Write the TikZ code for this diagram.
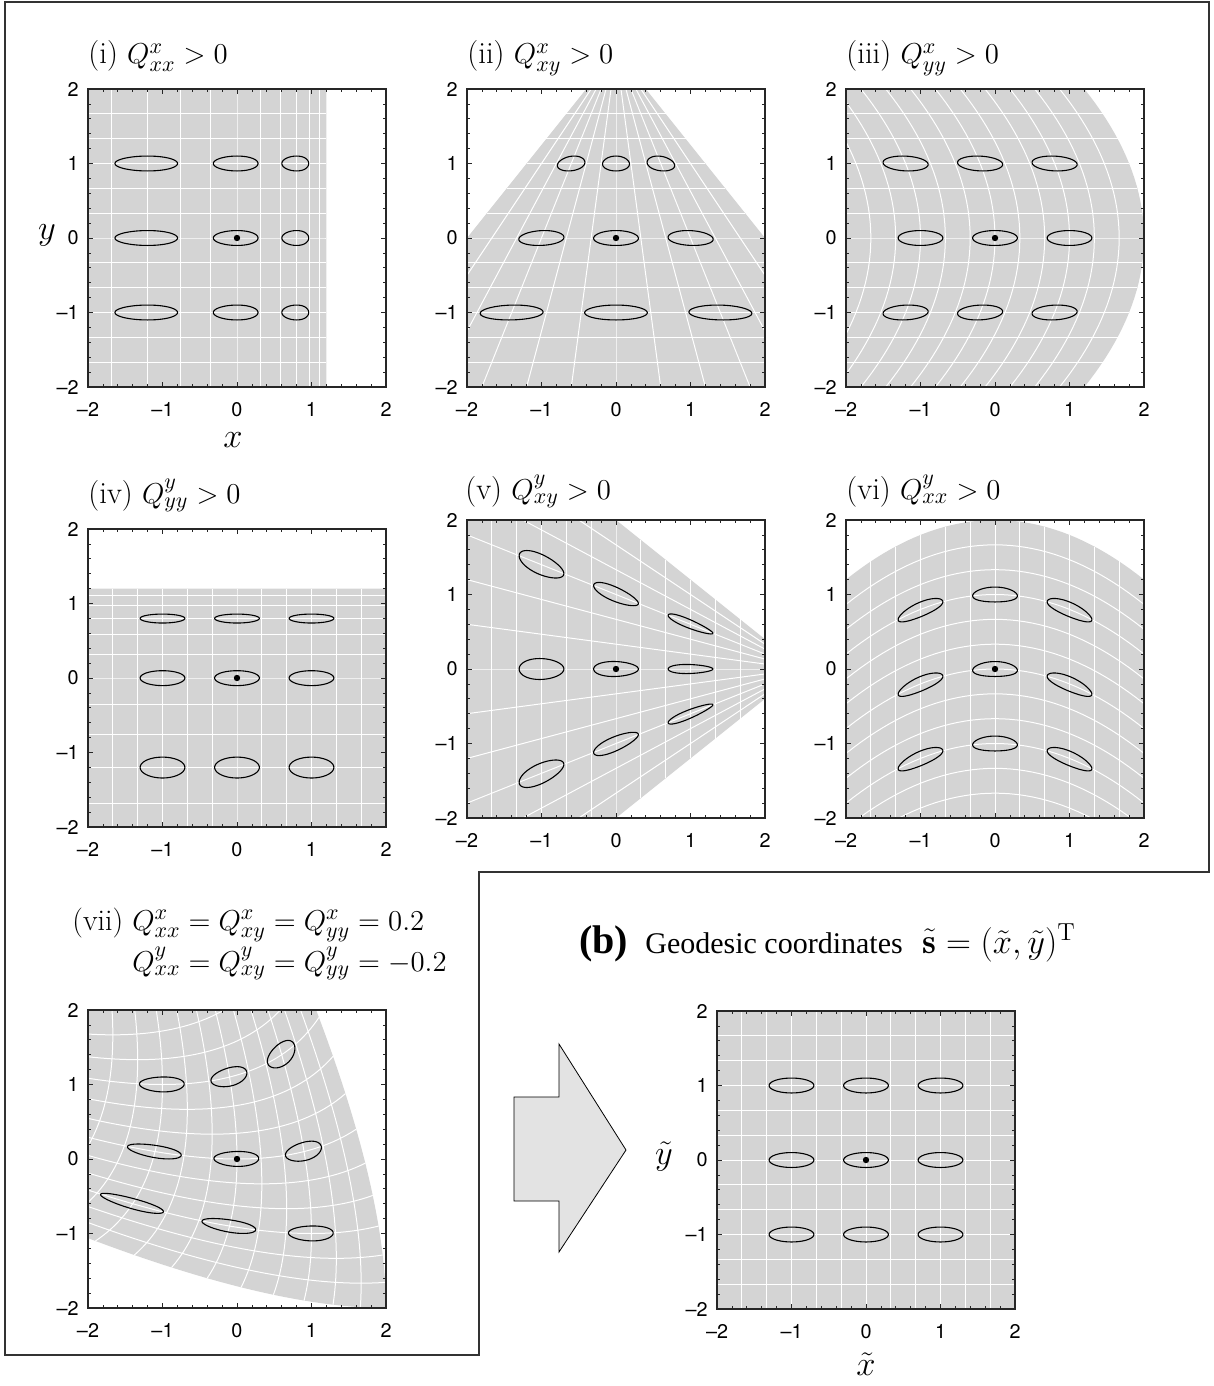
\documentclass[tikz,border=0pt]{standalone}
\usepackage{amsmath}
\usepackage{fontspec}
\usepackage{xcolor}
\usepackage{tikz}
\newfontfamily\helv{TeX Gyre Heros}
\newfontfamily\timesfam{Liberation Serif}
\definecolor{regiongray}{gray}{0.83}
\definecolor{arrowgray}{gray}{0.89}
\tikzset{
  declare function={
    mx(\gu,\gv)=\gu+\qa*\gu*\gu+\qb*\gu*\gv+\qc*\gv*\gv;
    my(\gu,\gv)=\gv+\qd*\gu*\gu+\qe*\gu*\gv+\qf*\gv*\gv;
  },
  region/.style={fill=regiongray},
  gridline/.style={draw=white, line width=0.5pt},
  blob/.style={draw=black, line width=0.55pt},
  plotframe/.style={draw=black!85, line width=0.6pt},
  tickmark/.style={draw=black!85, line width=0.4pt},
  ticklabel/.style={font=\fontsize{9.9}{12}\helv, inner sep=0pt}
}
% one panel: centre, name, then x = u + a u^2 + b uv + c v^2, y = v + d u^2 + e uv + f v^2
\newcommand\geopanel[8]{%
  \begin{scope}[shift={#1}, x=37.25pt, y=37.25pt]
    \def\qa{#3}\def\qb{#4}\def\qc{#5}\def\qd{#6}\def\qe{#7}\def\qf{#8}
    \begin{scope}
      \clip (-2,-2) rectangle (2,2);
      \fill[region] plot[domain=-2:2, samples=41, variable=\t] ({mx(\t,-2)},{my(\t,-2)})
        -- plot[domain=-2:2, samples=41, variable=\t] ({mx(2,\t)},{my(2,\t)})
        -- plot[domain=2:-2, samples=41, variable=\t] ({mx(\t,2)},{my(\t,2)})
        -- plot[domain=2:-2, samples=41, variable=\t] ({mx(-2,\t)},{my(-2,\t)}) -- cycle;
      \foreach \k in {-5,...,5} {
        \draw[gridline] plot[domain=-2:2, samples=41, variable=\t] ({mx(\k/3,\t)},{my(\k/3,\t)});
        \draw[gridline] plot[domain=-2:2, samples=41, variable=\t] ({mx(\t,\k/3)},{my(\t,\k/3)});
      }
    \end{scope}
    \foreach \i in {-1,0,1} {
      \foreach \j in {-1,0,1} {
        \draw[blob] plot[domain=0:360, samples=73, variable=\t]
          ({mx(\i+0.3*cos(\t),\j+0.1*sin(\t))},{my(\i+0.3*cos(\t),\j+0.1*sin(\t))}) -- cycle;
      }
    }
    \fill (0,0) circle[radius=1.6pt];
    \draw[plotframe] (-2,-2) rectangle (2,2);
    \foreach \k in {-2,...,2}
      \draw[tickmark] (\k,-2) -- +(0,0.07) (\k,2) -- +(0,-0.07) (-2,\k) -- +(0.07,0) (2,\k) -- +(-0.07,0);
    \foreach \m in {-1.8,-1.6,...,1.8}
      \draw[tickmark] (\m,-2) -- +(0,0.035) (\m,2) -- +(0,-0.035) (-2,\m) -- +(0.035,0) (2,\m) -- +(-0.035,0);
    \foreach \k/\lab [count=\n] in {-2/\textendash2,-1/\textendash1,0/0,1/1,2/2} {
      \node[ticklabel, anchor=east] (#2l\n) at (-2.12,\k) {\lab};
      \node[ticklabel, anchor=north] (#2b\n) at (\k,-2.2) {\lab};
    }
  \end{scope}}

\begin{document}
\begin{tikzpicture}[
  x=0.5pt, y=-0.5pt,
  outline/.style={draw=black!80, line width=0.75pt},
  paneltitle/.style={font=\fontsize{15.4}{18}\selectfont, inner sep=0pt, anchor=base west},
  axislabel/.style={font=\fontsize{19}{23}\selectfont, inner sep=0pt},
  bigarrow/.style={fill=arrowgray, draw=black, line width=0.4pt}
]
\useasboundingbox (0,0) rectangle (1214,1386);
\draw[outline] (5,2) -- (1209,2) -- (1209,872) -- (479,872) -- (479,1355) -- (5,1355) -- cycle;

\geopanel{(237,238)}{pi}{-0.2}{0}{0}{0}{0}{0}
\geopanel{(616,238)}{pii}{0}{-0.4}{0}{0}{0}{0}
\geopanel{(995,238)}{piii}{0}{0}{-0.2}{0}{0}{0}
\geopanel{(237,678)}{piv}{0}{0}{0}{0}{0}{-0.2}
\geopanel{(616,669)}{pv}{0}{0}{0}{0}{-0.4}{0}
\geopanel{(995,669)}{pvi}{0}{0}{0}{-0.2}{0}{0}
\geopanel{(237,1159)}{pvii}{-0.1}{-0.2}{-0.1}{0.1}{0.2}{0.1}
\geopanel{(866,1160)}{pb}{0}{0}{0}{0}{0}{0}

\node[paneltitle] (ti) at (88,64) {(i) $Q^x_{xx}>0$};
\node[paneltitle] (tii) at (467,64) {(ii) $Q^x_{xy}>0$};
\node[paneltitle] (tiii) at (846,64) {(iii) $Q^x_{yy}>0$};
\node[paneltitle] (tiv) at (88,503) {(iv) $Q^y_{yy}>0$};
\node[paneltitle] (tv) at (465,499) {(v) $Q^y_{xy}>0$};
\node[paneltitle] (tvi) at (846,499) {(vi) $Q^y_{xx}>0$};
\node[paneltitle, font=\fontsize{15}{18}\selectfont] (tvii) at (72,930) {(vii) $Q^x_{xx}=Q^x_{xy}=Q^x_{yy}=0.2$};
\node[paneltitle, font=\fontsize{15}{18}\selectfont] (tviib) at (72,971) {\phantom{(vii) }$Q^y_{xx}=Q^y_{xy}=Q^y_{yy}=-0.2$};
\node[paneltitle, font=\fontsize{15}{18}\selectfont] (tb) at (579,953)
  {{\timesfam\fontsize{20}{24}\selectfont\bfseries (b)}\hspace{4pt} {\timesfam Geodesic coordinates}\hspace{10pt}{\fontsize{17.6}{20}\selectfont$\tilde{\mathbf{s}}=(\tilde{x},\tilde{y})^{\mathrm{T}}$}};

\node[axislabel] (ylab) at (47,235) {$y$};
\node[axislabel] (xlab) at (233,440) {$x$};
\node[axislabel] (ytlab) at (664,1157) {$\tilde{y}$};
\node[axislabel] (xtlab) at (866,1364) {$\tilde{x}$};

\draw[bigarrow] (514,1097) -- (559,1097) -- (559,1044) -- (626,1150) -- (559,1252) -- (559,1201) -- (514,1201) -- cycle;
\end{tikzpicture}
\end{document}
